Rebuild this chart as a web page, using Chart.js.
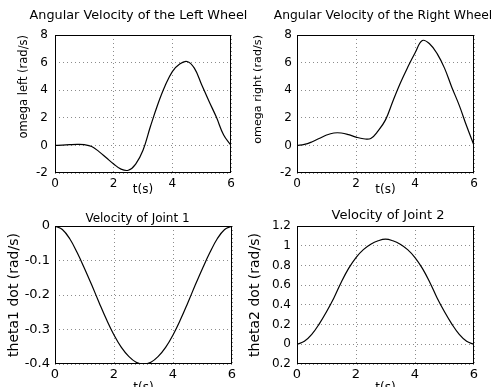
<!DOCTYPE html>
<html>
<head>
<meta charset="utf-8">
<script src="https://cdn.jsdelivr.net/npm/chart.js@4.4.1/dist/chart.umd.min.js"></script>
<style>
  html, body { margin: 0; padding: 0; background: #fff; overflow: hidden; }
  body { width: 495px; height: 387px; position: relative; }
  canvas { position: absolute; }
</style>
</head>
<body>
<script>
// time samples (s), every 0.25 s
const tSec = [0, 0.25, 0.5, 0.75, 1, 1.25, 1.5, 1.75, 2, 2.25, 2.5, 2.75, 3,
              3.25, 3.5, 3.75, 4, 4.25, 4.5, 4.75, 5, 5.25, 5.5, 5.75, 6];

// values
const omegaLeft = [0, 0.02, 0.05, 0.07, 0.05, -0.08, -0.45, -0.9, -1.35, -1.72, -1.8, -1.35, -0.35,
                   1.35, 2.95, 4.3, 5.35, 5.9, 6.08, 5.6, 4.4, 3.2, 2.05, 0.75, 0];
const omegaRight = [0, 0.07, 0.25, 0.5, 0.75, 0.9, 0.9, 0.78, 0.6, 0.48, 0.5, 1.05, 1.85,
                    3.2, 4.5, 5.65, 6.7, 7.6, 7.35, 6.65, 5.6, 4.2, 2.9, 1.4, 0];
const theta1Dot = [0, -0.01, -0.037, -0.077, -0.123, -0.172, -0.223, -0.272, -0.316, -0.352, -0.378, -0.395, -0.4,
                   -0.395, -0.378, -0.352, -0.316, -0.272, -0.223, -0.172, -0.123, -0.077, -0.037, -0.01, 0];
const theta2Dot = [0, 0.03, 0.1, 0.205, 0.33, 0.47, 0.63, 0.77, 0.88, 0.96, 1.015, 1.05, 1.067,
                   1.05, 1.015, 0.96, 0.88, 0.77, 0.63, 0.47, 0.33, 0.205, 0.1, 0.03, 0];

const xTickLabels = ['0', '2', '4', '6'];
const yTicksWheel = ['-2', '0', '2', '4', '6', '8'];
const yTicksJoint1 = ['-0.4', '-0.3', '-0.2', '-0.1', '0'];
const yTicksJoint2 = ['-0.2', '0', '0.2', '0.4', '0.6', '0.8', '1', '1.2'];

const FONT = 'DejaVu Sans';
Chart.defaults.color = '#000';
Chart.defaults.font.family = FONT;

// black box around each plot area, like the original
const frame = {
  id: 'frame',
  afterDatasetsDraw(chart) {
    const a = chart.chartArea;
    const ctx = chart.ctx;
    ctx.save();
    ctx.strokeStyle = '#000';
    ctx.lineWidth = 1;
    ctx.strokeRect(Math.round(a.left) + 0.5, Math.round(a.top) + 0.5,
      Math.round(a.right - a.left) - 1, Math.round(a.bottom - a.top) - 1);
    ctx.restore();
  }
};

function pts(xs, ys) {
  return xs.map((x, i) => ({x: x, y: ys[i]}));
}

// pick the label whose number matches the tick value
function labelFor(list, v) {
  const hit = list.find(l => Math.abs(parseFloat(l) - v) < 1e-6);
  return hit !== undefined ? hit : '';
}

function makePlot(p) {
  // p.area = [left, right, top, bottom] of the plot box in page pixels
  const [pL, pR, pT, pB] = p.area;
  const half = Math.max(p.titleX - pL, pR - p.titleX, 116);
  const boxL = p.titleX - half, boxR = p.titleX + half;
  const ylh = p.ylabSize * 1.2;
  const cl = Math.floor(Math.min(boxL, p.ylabX - ylh) - 2);
  const cr = Math.ceil(Math.max(boxR, pR) + 2);
  const W = cr - cl, H = p.bottom - p.top;

  const cv = document.createElement('canvas');
  cv.width = W; cv.height = H;
  cv.style.left = cl + 'px'; cv.style.top = p.top + 'px';
  document.body.appendChild(cv);

  const tlh = p.titleSize * 1.2;
  const xlh = p.xlabSize * 1.2;
  const klh = p.xTickSize * 1.2;
  const aT = pT - p.top, aB = pB - p.top;
  const titleC = p.titleY - p.top;

  new Chart(cv, {
    type: 'line',
    data: {
      datasets: [{
        data: pts(tSec, p.ys),
        yAxisID: 'y',
        borderColor: '#000',
        borderWidth: 1.2,
        pointRadius: 0,
        tension: 0.4,
        fill: false
      }]
    },
    options: {
      responsive: false,
      animation: false,
      events: [],
      layout: { padding: { left: boxL - cl, top: 0, right: cr - boxR, bottom: 0 } },
      plugins: {
        legend: { display: false },
        tooltip: { enabled: false },
        title: {
          display: true,
          text: p.title,
          color: '#000',
          font: { family: FONT, size: p.titleSize, weight: 'normal' },
          padding: { top: titleC - tlh / 2, bottom: aT - (titleC + tlh / 2) }
        }
      },
      scales: {
        x: {
          type: 'linear',
          min: 0, max: 6,
          afterFit: (s) => { s.height = H - aB; },
          ticks: {
            stepSize: 2,
            padding: p.xTickGap - klh / 2,
            maxRotation: 0,
            font: { size: p.xTickSize },
            callback: (v) => labelFor(xTickLabels, v)
          },
          grid: { color: '#8c8c8c', lineWidth: 1, drawTicks: false },
          border: { display: false, dash: [1, 3] },
          title: {
            display: true,
            text: 't(s)',
            font: { size: p.xlabSize },
            padding: { top: 0, bottom: (p.bottom - p.xlabY) - xlh / 2 }
          }
        },
        y: {
          min: p.ymin, max: p.ymax,
          afterFit: (s) => { s.width = pL - boxL; },
          ticks: {
            stepSize: p.ystep,
            padding: p.yTickGap,
            font: { size: p.yTickSize },
            callback: (v) => labelFor(p.yLabels, v)
          },
          grid: { color: '#8c8c8c', lineWidth: 1, drawTicks: false },
          border: { display: false, dash: [1, 3] },
          title: {
            display: true,
            text: p.ylab,
            align: p.ylabAlign,
            font: { size: p.ylabSize },
            padding: { top: (p.ylabX - boxL) - ylh / 2, bottom: 0 }
          }
        },
        // empty spacer on the right so the title can be wider than the plot box
        yR: {
          position: 'right',
          afterFit: (s) => { s.width = boxR - pR; },
          ticks: { display: false },
          grid: { display: false, drawTicks: false },
          border: { display: false }
        }
      }
    },
    plugins: [frame]
  });
}

makePlot({
  top: 0, bottom: 196, area: [55, 231, 35, 173],
  ys: omegaLeft, ymin: -2, ymax: 8, ystep: 2, yLabels: yTicksWheel,
  title: 'Angular Velocity of the Left Wheel', titleSize: 12.8, titleX: 138.5, titleY: 16,
  ylab: 'omega left (rad/s)', ylabSize: 11.5, ylabX: 24, ylabAlign: 'end',
  xlabSize: 12, xlabY: 190, xTickSize: 12, xTickGap: 11, yTickSize: 12, yTickGap: 7
});
makePlot({
  top: 0, bottom: 196, area: [297, 474, 35, 173],
  ys: omegaRight, ymin: -2, ymax: 8, ystep: 2, yLabels: yTicksWheel,
  title: 'Angular Velocity of the Right Wheel', titleSize: 12.3, titleX: 383, titleY: 16,
  ylab: 'omega right (rad/s)', ylabSize: 11.2, ylabX: 258, ylabAlign: 'end',
  xlabSize: 12, xlabY: 190, xTickSize: 12, xTickGap: 11, yTickSize: 12, yTickGap: 5
});
makePlot({
  top: 196, bottom: 387, area: [55, 232, 226, 364],
  ys: theta1Dot, ymin: -0.4, ymax: 0, ystep: 0.1, yLabels: yTicksJoint1,
  title: 'Velocity of Joint 1', titleSize: 12, titleX: 137.5, titleY: 218.5,
  ylab: 'theta1 dot (rad/s)', ylabSize: 14, ylabX: 14, ylabAlign: 'center',
  xlabSize: 12, xlabY: 388, xTickSize: 13, xTickGap: 11, yTickSize: 13, yTickGap: 5
});
makePlot({
  top: 196, bottom: 387, area: [297, 474, 226, 364],
  ys: theta2Dot, ymin: -0.2, ymax: 1.2, ystep: 0.2, yLabels: yTicksJoint2,
  title: 'Velocity of Joint 2', titleSize: 13, titleX: 388, titleY: 216,
  ylab: 'theta2 dot (rad/s)', ylabSize: 14, ylabX: 255, ylabAlign: 'center',
  xlabSize: 12, xlabY: 388, xTickSize: 13, xTickGap: 11, yTickSize: 12, yTickGap: 6
});
</script>
</body>
</html>
